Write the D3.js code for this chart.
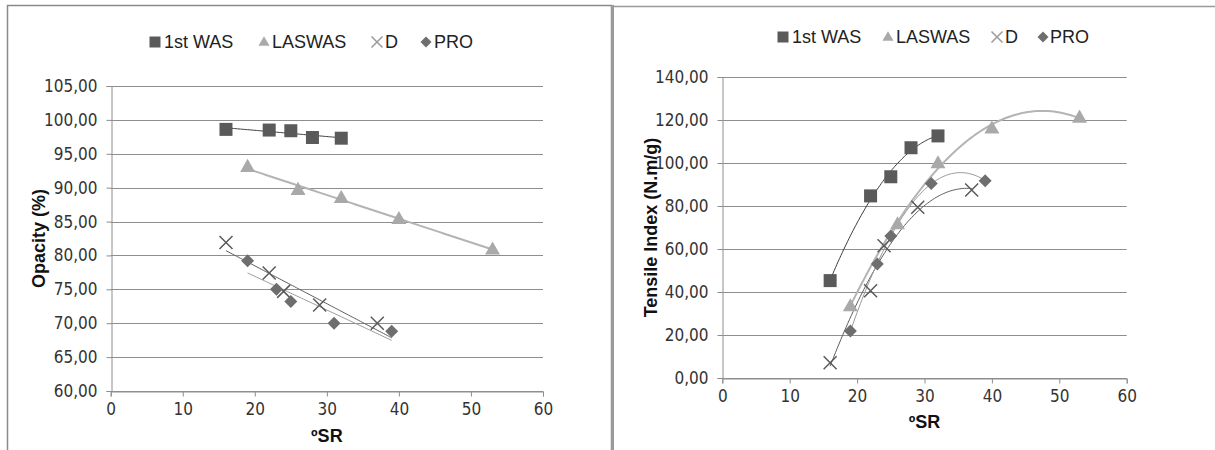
<!DOCTYPE html>
<html>
<head>
<meta charset="utf-8">
<script src="https://cdn.jsdelivr.net/npm/d3@7"></script>
<style>
html,body{margin:0;padding:0;background:#fff;}
svg{display:block;}
</style>
</head>
<body>
<svg id="chart" width="1215" height="450"></svg>
<script>
// ---- data ----
const seriesNames = ["1st WAS", "LASWAS", "D", "PRO"];
const srWAS = [16, 22, 25, 28, 32];
const srLAS = [19, 26, 32, 40, 53];
const srD   = [16, 22, 24, 29, 37];
const srPRO = [19, 23, 25, 31, 39];

const opacityWAS = [98.6, 98.5, 98.4, 97.4, 97.3];
const opacityLAS = [93.1, 89.7, 88.5, 85.4, 80.9];
const opacityD   = [81.9, 77.4, 74.7, 72.7, 70.0];
const opacityPRO = [79.2, 75.0, 73.2, 70.0, 68.8];

const tensileWAS = [45.3, 84.7, 93.6, 107.1, 112.6];
const tensileLAS = [33.5, 71.6, 100.0, 116.1, 121.2];
const tensileD   = [7.1, 40.6, 61.5, 79.4, 87.4];
const tensilePRO = [21.9, 53.0, 66.0, 90.5, 91.8];

// x-extent of the opacity trendlines (linear)
const opacityTrendWAS = [16, 32];
const opacityTrendLAS = [19, 53];
const opacityTrendD   = [16, 39];
const opacityTrendPRO = [19, 39];

const xTicks = [0, 10, 20, 30, 40, 50, 60];
const opacityTicks = [60, 65, 70, 75, 80, 85, 90, 95, 100, 105];
const tensileTicks = [0, 20, 40, 60, 80, 100, 120, 140];

// ---- helpers ----
const svg = d3.select("#chart");
const fmt = v => d3.format(".2f")(v).replace(".", ",");
const tickFont = "'Liberation Sans Narrow','DejaVu Sans Condensed','Liberation Sans',sans-serif";
const mainFont = "'Liberation Sans',Arial,sans-serif";

const styles = {
  "1st WAS": {shape: "square", fill: "#5a5a5a", line: "#3c3c3c", lw: 1},
  "LASWAS":  {shape: "triangle", fill: "#a9a9a9", line: "#b4b4b4", lw: 2},
  "D":       {shape: "x", fill: "#5a5a5a", line: "#5e5e5e", lw: 1},
  "PRO":     {shape: "diamond", fill: "#6e6e6e", line: "#9a9a9a", lw: 1}
};

function drawMarker(g, shape, color, s) {
  if (shape === "square") {
    g.append("rect").attr("x", -s/2).attr("y", -s/2).attr("width", s).attr("height", s).attr("fill", color);
  } else if (shape === "triangle") {
    const h = s * 0.87;
    g.append("path").attr("d", `M0,${-h*0.6}L${s/2},${h*0.4}L${-s/2},${h*0.4}Z`).attr("fill", color);
  } else if (shape === "diamond") {
    const r = s / 2;
    g.append("path").attr("d", `M0,${-r}L${r},0L0,${r}L${-r},0Z`).attr("fill", color);
  } else if (shape === "x") {
    const r = s / 2;
    g.append("path").attr("d", `M${-r},${-r}L${r},${r}M${-r},${r}L${r},${-r}`)
      .attr("stroke", color).attr("stroke-width", 1.5).attr("fill", "none");
  }
}

function linearFit(xs, ys) {
  const n = xs.length, mx = d3.mean(xs), my = d3.mean(ys);
  let sxy = 0, sxx = 0;
  for (let i = 0; i < n; i++) { sxy += (xs[i]-mx)*(ys[i]-my); sxx += (xs[i]-mx)**2; }
  const b = sxy / sxx, a = my - b * mx;
  return x => a + b * x;
}

function quadFit(xs, ys) {
  const S = k => d3.sum(xs, x => x ** k);
  const T = k => d3.sum(xs, (x, i) => ys[i] * x ** k);
  const A = [[S(0), S(1), S(2)], [S(1), S(2), S(3)], [S(2), S(3), S(4)]];
  const B = [T(0), T(1), T(2)];
  for (let i = 0; i < 3; i++) {
    for (let j = i + 1; j < 3; j++) {
      const f = A[j][i] / A[i][i];
      for (let k = i; k < 3; k++) A[j][k] -= f * A[i][k];
      B[j] -= f * B[i];
    }
  }
  const c = [0, 0, 0];
  for (let i = 2; i >= 0; i--) {
    let s = B[i];
    for (let k = i + 1; k < 3; k++) s -= A[i][k] * c[k];
    c[i] = s / A[i][i];
  }
  return x => c[0] + c[1] * x + c[2] * x * x;
}

function drawChart(cfg) {
  const g = svg.append("g");
  const x = d3.scaleLinear().domain([0, 60]).range(cfg.xRange);
  const y = d3.scaleLinear().domain(cfg.yDomain).range(cfg.yRange);

  g.append("g").selectAll("line").data(cfg.yTicks).join("line")
    .attr("x1", x(0)).attr("x2", x(60))
    .attr("y1", d => Math.round(y(d)) + 0.5).attr("y2", d => Math.round(y(d)) + 0.5)
    .attr("stroke", "#8e8e8e").attr("stroke-width", 1);

  const ya = g.append("g").attr("transform", `translate(${Math.round(x(0)) + 0.5},0)`)
    .call(d3.axisLeft(y).tickValues(cfg.yTicks).tickFormat(fmt).tickSize(5).tickPadding(9));
  const xa = g.append("g").attr("transform", `translate(0,${Math.round(y(cfg.yDomain[0])) + 0.5})`)
    .call(d3.axisBottom(x).tickValues(xTicks).tickSize(5).tickPadding(6));
  [ya, xa].forEach(a => {
    a.select(".domain").attr("stroke", "#8e8e8e");
    a.selectAll(".tick line").attr("stroke", "#8e8e8e");
    a.selectAll("text").attr("fill", "#333").style("font-family", tickFont).style("font-size", "17px");
  });

  g.append("text").attr("x", (cfg.xRange[0] + cfg.xRange[1]) / 2).attr("y", cfg.xTitleY)
    .attr("text-anchor", "middle").style("font-family", mainFont).style("font-weight", "bold")
    .style("font-size", "18px").attr("fill", "#111").text("ºSR");
  g.append("text")
    .attr("transform", `translate(${cfg.yTitleX},${(cfg.yRange[0] + cfg.yRange[1]) / 2}) rotate(-90)`)
    .attr("text-anchor", "middle").attr("dominant-baseline", "central")
    .style("font-family", mainFont).style("font-weight", "bold")
    .style("font-size", "18px").attr("fill", "#111").text(cfg.yTitle);

  cfg.series.forEach(s => {
    const st = styles[s.name];
    const f = cfg.fit(s.x, s.y);
    const ext = s.trend || d3.extent(s.x);
    const pts = d3.range(ext[0], ext[1] + 0.0001, (ext[1] - ext[0]) / 80);
    g.append("path")
      .attr("d", d3.line().x(d => x(d)).y(d => y(f(d)))(pts))
      .attr("fill", "none").attr("stroke", st.line).attr("stroke-width", st.lw);
  });

  cfg.series.forEach(s => {
    const st = styles[s.name];
    s.x.forEach((xv, i) => {
      const m = g.append("g").attr("transform", `translate(${x(xv)},${y(s.y[i])})`);
      drawMarker(m, st.shape, st.fill, st.shape === "triangle" ? 15 : 13);
    });
  });

  const lg = g.append("g");
  cfg.legend.forEach((pos, i) => {
    const name = seriesNames[i];
    const st = styles[name];
    const m = lg.append("g").attr("transform", `translate(${pos[0]},${cfg.legendY})`);
    drawMarker(m, st.shape, name === "D" ? "#9a9a9a" : st.fill, 11);
    lg.append("text").attr("x", pos[1]).attr("y", cfg.legendY).attr("dominant-baseline", "central")
      .style("font-family", mainFont).style("font-size", "18px").attr("fill", "#222").text(name);
  });
}

svg.append("rect").attr("x", 7.5).attr("y", 5.5).attr("width", 604).attr("height", 470)
  .attr("fill", "none").attr("stroke", "#8a8a8a").attr("stroke-width", 1.5);
svg.append("rect").attr("x", 612.5).attr("y", 6.5).attr("width", 620).attr("height", 470)
  .attr("fill", "none").attr("stroke", "#9a9a9a").attr("stroke-width", 1.5);
svg.append("line").attr("x1", 612.5).attr("x2", 612.5).attr("y1", 5).attr("y2", 450)
  .attr("stroke", "#9a9a9a").attr("stroke-width", 3);

drawChart({
  xRange: [110.7, 543], yDomain: [60, 105], yRange: [391, 86], yTicks: opacityTicks,
  yTitle: "Opacity (%)", yTitleX: 39, xTitleY: 442, legendY: 42,
  legend: [[155, 164], [264, 272], [377, 385], [426, 434]],
  fit: linearFit,
  series: [
    {name: "1st WAS", x: srWAS, y: opacityWAS, trend: opacityTrendWAS},
    {name: "LASWAS", x: srLAS, y: opacityLAS, trend: opacityTrendLAS},
    {name: "D", x: srD, y: opacityD, trend: opacityTrendD},
    {name: "PRO", x: srPRO, y: opacityPRO, trend: opacityTrendPRO}
  ]
});

drawChart({
  xRange: [722.3, 1126.7], yDomain: [0, 140], yRange: [378, 77], yTicks: tensileTicks,
  yTitle: "Tensile Index (N.m/g)", yTitleX: 651, xTitleY: 428, legendY: 37,
  legend: [[783, 792], [888, 896], [997, 1005], [1043, 1050]],
  fit: quadFit,
  series: [
    {name: "1st WAS", x: srWAS, y: tensileWAS},
    {name: "LASWAS", x: srLAS, y: tensileLAS},
    {name: "D", x: srD, y: tensileD},
    {name: "PRO", x: srPRO, y: tensilePRO}
  ]
});
</script>
</body>
</html>
